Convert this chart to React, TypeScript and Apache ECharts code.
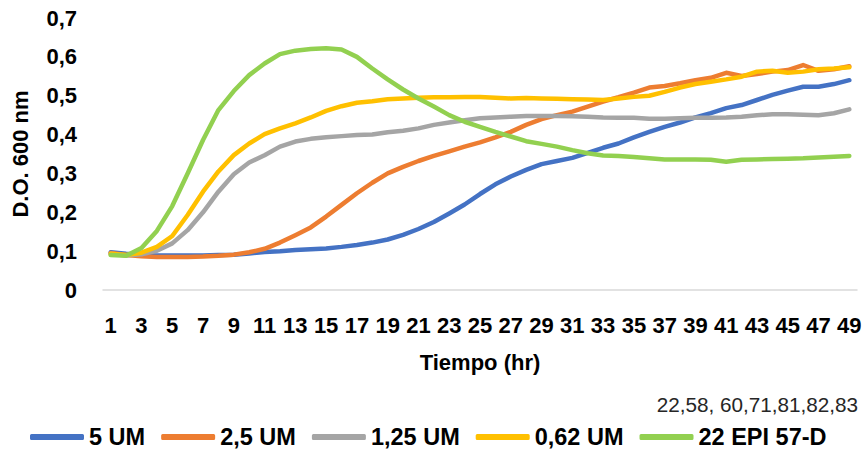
import React, { useEffect, useRef } from "react";
import * as echarts from "echarts";

// Hours 1..49
const hours: string[] = Array.from({ length: 49 }, (_, i) => String(i + 1));

const seriesNames = ["5 UM", "2,5 UM", "1,25 UM", "0,62 UM", "22 EPI 57-D"];
const seriesColors = ["#4472C4", "#ED7D31", "#A5A5A5", "#FFC000", "#92D050"];

const od5uM = [
  0.097, 0.093, 0.09, 0.089, 0.089, 0.089, 0.089, 0.09, 0.091, 0.094,
  0.098, 0.1, 0.103, 0.105, 0.107, 0.111, 0.116, 0.122, 0.13, 0.142,
  0.157, 0.175, 0.197, 0.22, 0.247, 0.272, 0.292, 0.309, 0.324, 0.332,
  0.34, 0.353, 0.366, 0.377, 0.393, 0.407, 0.42, 0.431, 0.444, 0.455,
  0.468, 0.476, 0.489, 0.502, 0.513, 0.523, 0.523, 0.53, 0.54,
];

const od2_5uM = [
  0.095, 0.09, 0.087, 0.085, 0.085, 0.085, 0.086, 0.088, 0.091, 0.097,
  0.106, 0.122, 0.141, 0.161, 0.189, 0.219, 0.249, 0.276, 0.3, 0.317,
  0.332, 0.345, 0.357, 0.369, 0.38, 0.393, 0.407, 0.425, 0.44, 0.45,
  0.459, 0.472, 0.485, 0.496, 0.508, 0.521, 0.525, 0.532, 0.54, 0.546,
  0.559, 0.551, 0.556, 0.562, 0.566, 0.579, 0.564, 0.568, 0.576,
];

const od1_25uM = [
  0.093, 0.089, 0.092, 0.101, 0.12, 0.154, 0.2, 0.253, 0.298, 0.328,
  0.347, 0.369, 0.382, 0.389, 0.393, 0.396, 0.399, 0.4, 0.406, 0.41,
  0.416, 0.425, 0.431, 0.437, 0.442, 0.444, 0.446, 0.448, 0.448, 0.448,
  0.447, 0.446, 0.444, 0.443, 0.443, 0.441, 0.441, 0.442, 0.443, 0.443,
  0.444, 0.446, 0.45, 0.452, 0.452, 0.451, 0.45, 0.455, 0.465,
];

const od0_62uM = [
  0.093, 0.09, 0.096, 0.111, 0.139, 0.193, 0.253, 0.305, 0.347, 0.377,
  0.401, 0.416, 0.429, 0.444, 0.461, 0.473, 0.482, 0.486, 0.491, 0.493,
  0.495, 0.496, 0.496, 0.497, 0.497, 0.495, 0.493, 0.494, 0.493, 0.492,
  0.491, 0.49, 0.489, 0.493, 0.497, 0.5, 0.51, 0.521, 0.53, 0.536,
  0.542, 0.549, 0.562, 0.564, 0.559, 0.562, 0.568, 0.57, 0.573,
];

const odEpi57D = [
  0.09, 0.088, 0.108, 0.152, 0.216, 0.3, 0.386, 0.463, 0.512, 0.553,
  0.583, 0.607, 0.616, 0.62, 0.622, 0.619, 0.6, 0.57, 0.542, 0.516,
  0.493, 0.472, 0.45, 0.433, 0.42, 0.407, 0.395, 0.383, 0.376, 0.369,
  0.36, 0.352, 0.346, 0.345, 0.342, 0.339, 0.336, 0.336, 0.336, 0.335,
  0.33, 0.335, 0.336, 0.337, 0.338, 0.339, 0.341, 0.343, 0.345,
];

const seriesValues = [od5uM, od2_5uM, od1_25uM, od0_62uM, odEpi57D];

const yAxisTitle = "D.O. 600 nm";
const xAxisTitle = "Tiempo (hr)";
const noteText = "22,58, 60,71,81,82,83";

const FONT = "'Liberation Sans', Arial, sans-serif";

export default function App() {
  const ref = useRef<HTMLDivElement>(null);

  useEffect(() => {
    if (!ref.current) return;
    const chart = echarts.init(ref.current, undefined, { renderer: "svg" });
    chart.setOption({
      animation: false,
      backgroundColor: "#ffffff",
      textStyle: { fontFamily: FONT },
      grid: { left: 103, right: 11, top: 18, bottom: 160 },
      xAxis: {
        type: "category",
        data: hours,
        boundaryGap: true,
        name: xAxisTitle,
        nameLocation: "middle",
        nameGap: 61,
        nameTextStyle: { fontFamily: FONT, fontSize: 22, fontWeight: "bold", color: "#000" },
        axisLine: { lineStyle: { color: "#d9d9d9", width: 1.5 } },
        axisTick: { show: false },
        axisLabel: {
          interval: 1,
          margin: 24,
          fontFamily: FONT,
          fontSize: 22,
          fontWeight: "bold",
          color: "#000",
        },
        splitLine: { show: false },
      },
      yAxis: {
        type: "value",
        min: 0,
        max: 0.7,
        interval: 0.1,
        name: yAxisTitle,
        nameLocation: "middle",
        nameRotate: 90,
        nameGap: 72,
        nameTextStyle: { fontFamily: FONT, fontSize: 22, fontWeight: "bold", color: "#000" },
        axisLine: { show: false },
        axisTick: { show: false },
        splitLine: { show: false },
        axisLabel: {
          margin: 26,
          fontFamily: FONT,
          fontSize: 22,
          fontWeight: "bold",
          color: "#000",
          formatter: (v: number) => (v === 0 ? "0" : v.toFixed(1).replace(".", ",")),
        },
      },
      legend: {
        left: 30,
        top: 425,
        padding: 0,
        icon: "roundRect",
        itemWidth: 54,
        itemHeight: 6,
        itemGap: 16,
        textStyle: { fontFamily: FONT, fontSize: 23.5, fontWeight: "bold", color: "#000" },
        data: seriesNames,
      },
      graphic: [
        {
          type: "text",
          x: 858,
          y: 404,
          style: {
            text: noteText,
            fontFamily: FONT,
            fontSize: 20.7,
            fill: "#262626",
            textAlign: "right",
            textVerticalAlign: "middle",
          },
        },
      ],
      series: seriesNames.map((name, k) => ({
        name,
        type: "line",
        data: seriesValues[k],
        symbol: "none",
        smooth: false,
        color: seriesColors[k],
        lineStyle: { width: 4.5, color: seriesColors[k], cap: "round", join: "round" },
        z: 2 + k,
      })),
    });
    return () => chart.dispose();
  }, []);

  return (
    <div
      ref={ref}
      style={{ position: "fixed", left: 0, top: 0, width: 868, height: 450 }}
    />
  );
}
